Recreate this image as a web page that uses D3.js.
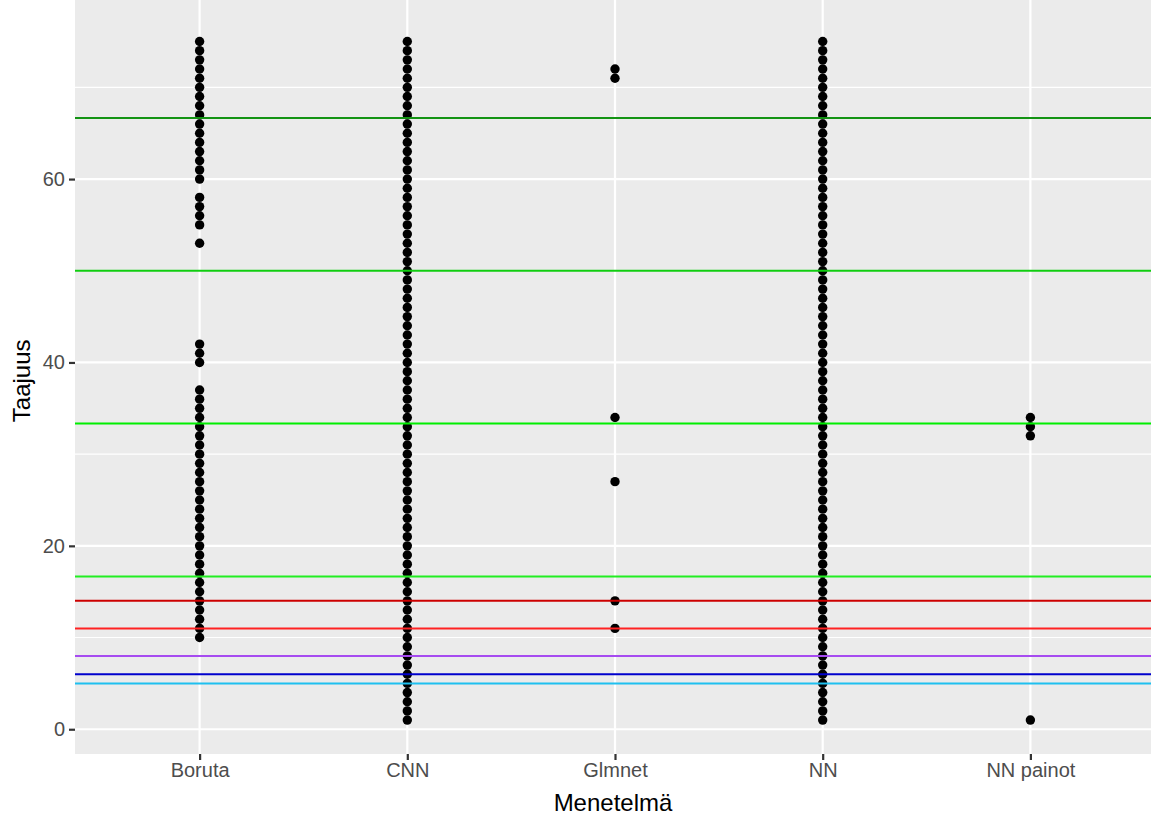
<!DOCTYPE html>
<html>
<head>
<meta charset="utf-8">
<script src="https://cdn.jsdelivr.net/npm/d3@7"></script>
<style>
  body { margin: 0; background: #fff; }
  svg { display: block; font-family: "Liberation Sans", Arial, sans-serif; }
</style>
</head>
<body>
<svg width="1151" height="820"></svg>
<script>
// menetelmät
const methods = ['Boruta', 'CNN', 'Glmnet', 'NN', 'NN painot'];

const range = (a, b) => d3.range(a, b + 1);

// taajuudet per menetelmä
const borutaValues = [...range(10, 37), 40, 41, 42, 53, 55, 56, 57, 58, ...range(60, 75)];
const cnnValues = range(1, 75);
const glmnetValues = [11, 14, 27, 34, 71, 72];
const nnValues = range(1, 75);
const nnPainotValues = [1, 32, 33, 34];

// vaakaviivat
const lineValues = [66.67, 50, 33.33, 16.67, 14, 11, 8, 6, 5];
const lineColors = ['#139313', '#10CD10', '#00EE00', '#22EE22', '#CD0000', '#FF2222', '#A64BF0', '#0000CD', '#1EC0F0'];

const yTicks = [0, 20, 40, 60];
const yMinor = [10, 30, 50, 70];

const points = [
  ...borutaValues.map(v => ({m: 'Boruta', v})),
  ...cnnValues.map(v => ({m: 'CNN', v})),
  ...glmnetValues.map(v => ({m: 'Glmnet', v})),
  ...nnValues.map(v => ({m: 'NN', v})),
  ...nnPainotValues.map(v => ({m: 'NN painot', v}))
];

const svg = d3.select('svg');
const pLeft = 75, pRight = 1155, pTop = 7.6, pBottom = 754;

const x = d3.scalePoint()
  .domain(methods)
  .range([pLeft, pRight])
  .padding(0.6);

const y = d3.scaleLinear()
  .domain([-2.7, 78.7])
  .range([pBottom, pTop]);

// paneeli (yläreuna rajautuu kuvan reunaan)
svg.append('rect')
  .attr('x', pLeft).attr('y', 0)
  .attr('width', pRight - pLeft).attr('height', pBottom)
  .attr('fill', '#EBEBEB');

const grid = svg.append('g');
grid.selectAll('.minor').data(yMinor).join('line')
  .attr('x1', pLeft).attr('x2', pRight)
  .attr('y1', d => y(d)).attr('y2', d => y(d))
  .attr('stroke', '#fff').attr('stroke-width', 1.1);
grid.selectAll('.major').data(yTicks).join('line')
  .attr('x1', pLeft).attr('x2', pRight)
  .attr('y1', d => y(d)).attr('y2', d => y(d))
  .attr('stroke', '#fff').attr('stroke-width', 2.2);
grid.selectAll('.vmajor').data(methods).join('line')
  .attr('x1', d => x(d)).attr('x2', d => x(d))
  .attr('y1', 0).attr('y2', pBottom)
  .attr('stroke', '#fff').attr('stroke-width', 2.2);

// pisteet
svg.append('g').selectAll('circle').data(points).join('circle')
  .attr('cx', d => x(d.m))
  .attr('cy', d => y(d.v))
  .attr('r', 4.7)
  .attr('fill', '#000');

// viivat pisteiden päällä
svg.append('g').selectAll('line').data(lineValues).join('line')
  .attr('x1', pLeft).attr('x2', pRight)
  .attr('y1', d => y(d)).attr('y2', d => y(d))
  .attr('stroke', (d, i) => lineColors[i])
  .attr('stroke-width', 2);

// akselit
const yAxis = svg.append('g')
  .attr('transform', `translate(${pLeft},0)`)
  .call(d3.axisLeft(y).tickValues(yTicks).tickSize(6).tickPadding(4));
const xAxis = svg.append('g')
  .attr('transform', `translate(0,${pBottom})`)
  .call(d3.axisBottom(x).tickSize(6).tickPadding(3));

[yAxis, xAxis].forEach(a => {
  a.select('.domain').remove();
  a.selectAll('.tick line').attr('stroke', '#333').attr('stroke-width', 2.2);
  a.selectAll('.tick text')
    .attr('fill', '#4D4D4D')
    .style('font-size', '20px')
    .style('font-family', '"Liberation Sans", Arial, sans-serif');
});

svg.append('text')
  .attr('x', (pLeft + 1151) / 2).attr('y', 811)
  .attr('text-anchor', 'middle')
  .style('font-size', '24px')
  .text('Menetelmä');

svg.append('text')
  .attr('transform', `translate(30,${(pTop + pBottom) / 2}) rotate(-90)`)
  .attr('text-anchor', 'middle')
  .style('font-size', '24px')
  .text('Taajuus');
</script>
</body>
</html>
